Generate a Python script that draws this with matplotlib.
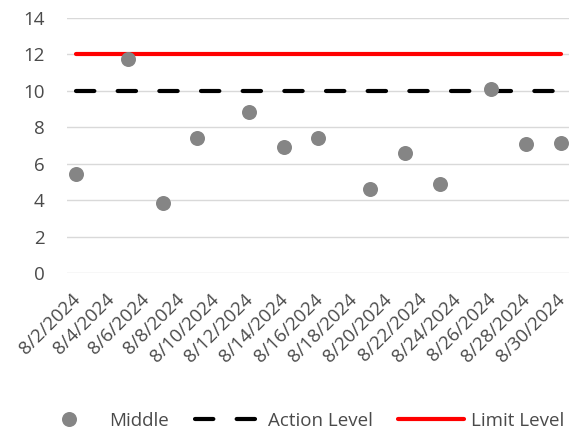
import matplotlib
matplotlib.use("Agg")
import matplotlib.pyplot as plt
import matplotlib.dates as mdates
import matplotlib.transforms as mtransforms
from datetime import date
from matplotlib.lines import Line2D

# Data
sample_dates = ["2024-08-02", "2024-08-05", "2024-08-07", "2024-08-09", "2024-08-12",
                "2024-08-14", "2024-08-16", "2024-08-19", "2024-08-21", "2024-08-23",
                "2024-08-26", "2024-08-28", "2024-08-30"]
middle = [5.45, 11.75, 3.87, 7.43, 8.82, 6.93, 7.43, 4.62, 6.59, 4.91, 10.09, 7.10, 7.13]
action_level = [10] * len(sample_dates)
limit_level = [12] * len(sample_dates)
tick_dates = ["2024-08-02", "2024-08-04", "2024-08-06", "2024-08-08", "2024-08-10",
              "2024-08-12", "2024-08-14", "2024-08-16", "2024-08-18", "2024-08-20",
              "2024-08-22", "2024-08-24", "2024-08-26", "2024-08-28", "2024-08-30"]
tick_labels = ["8/2/2024", "8/4/2024", "8/6/2024", "8/8/2024", "8/10/2024", "8/12/2024",
               "8/14/2024", "8/16/2024", "8/18/2024", "8/20/2024", "8/22/2024", "8/24/2024",
               "8/26/2024", "8/28/2024", "8/30/2024"]
y_ticks = [0, 2, 4, 6, 8, 10, 12, 14]

plt.rcParams['font.family'] = ['Open Sans', 'DejaVu Sans']
text_color = '#4A4A4A'
fs = 13.5

def to_num(s):
    return mdates.date2num(date.fromisoformat(s))

x = [to_num(d) for d in sample_dates]
xt = [to_num(d) for d in tick_dates]

fig = plt.figure(figsize=(5.69, 4.37), dpi=100)
ax = fig.add_axes([0.1178, 0.3746, 0.8822, 0.5842])

dash = (0, (4.4, 5.6))
ax.plot(x, limit_level, color='#FF0000', lw=3.0, solid_capstyle='round', zorder=3, label='Limit Level')
ax.plot(x, action_level, color='black', lw=3.0, dash_capstyle='round',
        linestyle=dash, zorder=3, label='Action Level')
ax.plot(x, middle, linestyle='none', marker='o', markersize=10.8, color='#858585',
        markeredgewidth=0, zorder=4, label='Middle')

ax.set_ylim(0, 14)
ax.set_yticks(y_ticks)
ax.set_xlim(x[0] - 0.52, x[-1] + 0.48)
ax.set_xticks(xt)
ax.set_xticklabels(tick_labels, rotation=45, ha='right', rotation_mode='anchor')
ax.grid(axis='y', color='#D9D9D9', lw=1.0)
ax.set_axisbelow(True)
for s in ax.spines.values():
    s.set_visible(False)
ax.tick_params(axis='both', length=0, labelsize=fs, colors=text_color)
ax.tick_params(axis='y', pad=16)
ax.tick_params(axis='x', pad=12)
offset = mtransforms.ScaledTranslation(-5 / 100, 0, fig.dpi_scale_trans)
for lbl in ax.get_xticklabels():
    lbl.set_transform(lbl.get_transform() + offset)

handles = [Line2D([], [], linestyle='none', marker='o', markersize=10.8, color='#858585', markeredgewidth=0),
           Line2D([], [], color='black', lw=3.0, dash_capstyle='round', linestyle=dash),
           Line2D([], [], color='#FF0000', lw=3.0, solid_capstyle='round')]
leg = fig.legend(handles, ['Middle', 'Action Level', 'Limit Level'], loc='center',
                 bbox_to_anchor=(0.528, 0.037), ncol=3, frameon=False, fontsize=fs,
                 handlelength=3.5, columnspacing=1.35, handletextpad=0.4, borderpad=0, borderaxespad=0)
for t in leg.get_texts():
    t.set_color(text_color)

fig.savefig('out.png', dpi=100)
